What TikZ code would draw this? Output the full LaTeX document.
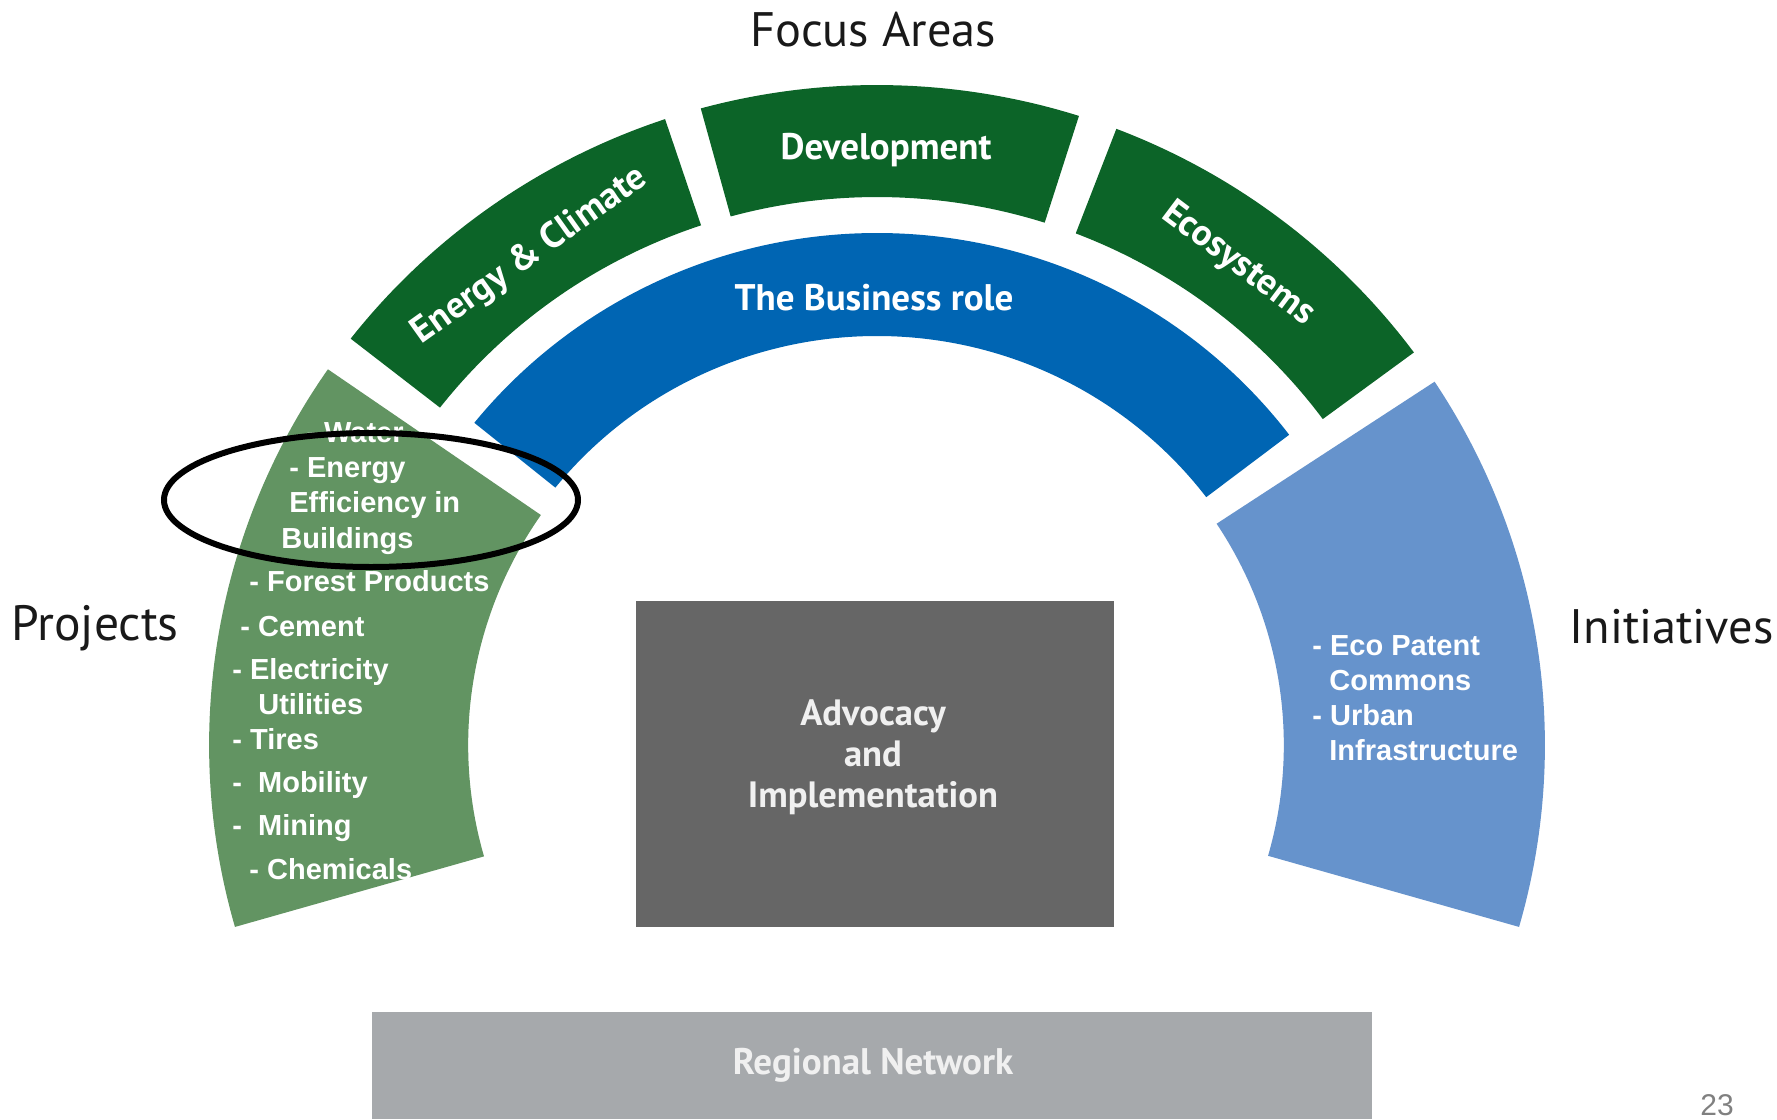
\documentclass[tikz,border=0pt]{standalone}
\usepackage{fontspec}
\setmainfont{PT Sans}
\newfontfamily\arialfont{Liberation Sans}
\definecolor{focusgreen}{RGB}{12,100,40}
\definecolor{rolblue}{RGB}{0,101,179}
\definecolor{projgreen}{RGB}{98,148,98}
\definecolor{initblue}{RGB}{102,147,204}
\definecolor{advgrey}{RGB}{102,102,102}
\definecolor{reggrey}{RGB}{166,169,172}
\newcommand\annsector[5]{\fill[#1] (#2:#5) arc[start angle=#2,end angle=#3,radius=#5] -- (#3:#4) arc[start angle=#3,end angle=#2,radius=#4] -- cycle;}
\begin{document}
\begin{tikzpicture}[x=0.5pt,y=-0.5pt,
  biglbl/.style={inner sep=0pt,text=black!90,font=\fontsize{24.2}{26}\selectfont},
  focuslbl/.style={inner sep=0pt,text=white,font=\fontsize{18.5}{20}\selectfont\bfseries},
  boxlbl/.style={inner sep=0pt,text=white!94!black,align=center,font=\fontsize{18.3}{20.5}\selectfont\bfseries},
  item/.style={inner sep=0pt,anchor=base west,text=white,font=\arialfont\fontsize{14.5}{16}\selectfont\bfseries}]
\useasboundingbox (0,0) rectangle (1777,1119);
\fill[white] (0,0) rectangle (1777,1119);
% ring segments
\begin{scope}[shift={(877,745)},yscale=-1,xscale=1.012]
  \annsector{focusgreen}{108.5}{142}{548}{660}
  \annsector{focusgreen}{72.4}{105.3}{548}{660}
  \annsector{focusgreen}{36.5}{69}{548}{660}
  \annsector{rolblue}{37.3}{141}{409}{512}
  \annsector{projgreen}{145.3}{196}{404}{660}
  \annsector{initblue}{-16}{33.4}{402}{660}
\end{scope}
% boxes
\node[fill=advgrey,minimum width=478*0.5pt,minimum height=326*0.5pt,inner sep=0pt,anchor=north west] (adv) at (636,601) {};
\node[fill=reggrey,minimum width=1000*0.5pt,minimum height=107*0.5pt,inner sep=0pt,anchor=north west] (reg) at (372,1012) {};
% headings
\node[biglbl] (focus) at (873,30) {Focus Areas};
\node[biglbl,anchor=west,font=\fontsize{24.8}{26}\selectfont] (proj) at (11,628) {Projects};
\node[biglbl,anchor=east] (init) at (1774,627) {Initiatives};
% focus labels
\node[focuslbl,rotate=35.5] (ec) at (530,256) {Energy \& Climate};
\node[focuslbl] (dev) at (886,150) {Development};
\node[focuslbl,rotate=-37] (eco) at (1238,264) {Ecosystems};
\node[focuslbl] (biz) at (874,298) {The Business role};
% center labels
\node[boxlbl] (advt) at (873,757) {Advocacy\\and\\Implementation};
\node[boxlbl,font=\fontsize{18.5}{21}\selectfont\bfseries] (regt) at (873,1065) {Regional Network};
\node[inner sep=0pt,text=black!50,font=\arialfont\fontsize{15}{16}\selectfont] (pg) at (1717,1105) {23};
% project items
\node[item] (p1) at (306,442) {- Water};
\node[item] (p2) at (289,477) {- Energy};
\node[item] (p3) at (289,512) {Efficiency in};
\node[item] (p4) at (281,548) {Buildings};
\node[item] (p5) at (249,591) {- Forest Products};
\node[item] (p6) at (240,636) {- Cement};
\node[item] (p7) at (232,679) {- Electricity};
\node[item] (p8) at (258,714) {Utilities};
\node[item] (p9) at (232,749) {- Tires};
\node[item] (p10) at (232,792) {-~~Mobility};
\node[item] (p11) at (232,835) {-~~Mining};
\node[item] (p12) at (249,879) {- Chemicals};
% initiative items
\node[item] (i1) at (1312,655) {- Eco Patent};
\node[item] (i2) at (1329,690) {Commons};
\node[item] (i3) at (1312,725) {- Urban};
\node[item] (i4) at (1329,760) {Infrastructure};
% highlight ellipse
\draw[line width=3pt,black] (371,500) ellipse [x radius=207,y radius=67];
\end{tikzpicture}
\end{document}
